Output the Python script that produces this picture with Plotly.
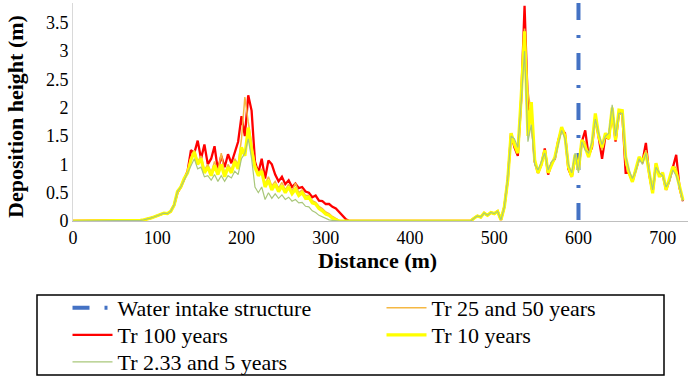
import plotly.graph_objects as go

# ---- data (distance in m, deposition height in m) ----
x_a = [80, 84, 88, 92, 96, 100, 104, 108, 112, 116, 120, 124, 128, 132, 136, 140, 144, 148, 152, 156,
       160, 164, 168, 172, 176, 180, 184, 188, 192, 196, 200, 204, 208, 212, 216, 220, 224, 228, 232, 236,
       240, 244, 248, 252, 256, 260, 264, 268, 272, 276, 280, 284, 288, 292, 296, 300, 304, 308, 312, 316,
       320, 324, 328]
x_b = [472, 476, 480, 484, 488, 492, 496, 500, 504, 508, 512, 516, 520, 524, 528, 532, 536, 540, 544, 548,
       552, 556, 560, 564, 568, 572, 576, 580, 584, 588, 592, 596, 600, 604, 608, 612, 616, 620, 624, 628,
       632, 636, 640, 644, 648, 652, 656, 660, 664, 668, 672, 676, 680, 684, 688, 692, 696, 700, 704, 708,
       712, 716, 720, 724]
x_gap_start = [0, 76]
x_gap_mid = [332, 468]

tr100_a = [0.01, 0.02, 0.03, 0.05, 0.07, 0.09, 0.12, 0.14, 0.13, 0.17,
           0.28, 0.5, 0.6, 0.75, 0.88, 1.25, 1.2, 1.42, 1.1, 1.35,
           1.0, 1.1, 1.32, 0.9, 1.15, 0.95, 1.18, 1.02, 1.2, 1.4,
           1.85, 1.5, 2.22, 1.95, 1.05, 0.85, 1.1, 0.75, 1.07, 1.0,
           0.82, 0.7, 0.78, 0.65, 0.72, 0.6, 0.66, 0.58, 0.6, 0.52,
           0.5, 0.42, 0.45, 0.36, 0.35, 0.3, 0.3, 0.25, 0.22, 0.15,
           0.08, 0.03, 0.0]
tr100_b = [0.0, 0.05, 0.09, 0.07, 0.14, 0.1, 0.15, 0.13, 0.17, 0.02,
           0.25, 0.72, 1.55, 1.3, 1.15, 2.15, 3.8, 2.0, 1.9, 1.05,
           0.85, 1.0, 1.28, 0.82, 1.02, 1.1, 1.42, 1.62, 1.55, 0.92,
           0.78, 1.12, 0.92, 1.4, 1.6, 1.15, 1.3, 1.85, 1.45, 1.1,
           1.5, 1.45, 1.95, 1.4, 1.9, 1.9, 0.85, 0.85, 0.7, 0.88,
           1.1, 1.05, 1.38, 0.82, 0.5, 1.0, 0.8, 0.82, 0.55, 0.72,
           0.93, 1.17, 0.58, 0.35]

tr25_50_a = [0.01, 0.02, 0.03, 0.05, 0.07, 0.09, 0.12, 0.14, 0.13, 0.17,
             0.28, 0.52, 0.6, 0.75, 0.86, 1.12, 1.25, 1.05, 1.15, 0.9,
             1.0, 0.85, 1.05, 0.88, 1.2, 0.82, 1.0, 0.9, 1.1, 1.0,
             1.45, 2.19, 1.75, 1.35, 1.0, 0.85, 0.92, 0.65, 0.78, 0.62,
             0.7, 0.58, 0.68, 0.55, 0.65, 0.52, 0.67, 0.5, 0.55, 0.45,
             0.45, 0.36, 0.33, 0.26, 0.22, 0.16, 0.13, 0.08, 0.04, 0.01,
             0.0, 0.0, 0.0]
tr25_50_b = [0.0, 0.05, 0.09, 0.07, 0.14, 0.1, 0.15, 0.13, 0.17, 0.02,
             0.25, 0.72, 1.55, 1.35, 1.2, 2.2, 3.4, 2.3, 1.9, 1.08,
             0.85, 1.0, 1.25, 0.85, 1.0, 1.12, 1.4, 1.62, 1.52, 0.95,
             0.78, 1.15, 0.9, 1.42, 1.4, 1.13, 1.35, 1.88, 1.5, 1.25,
             1.55, 1.45, 1.98, 1.43, 1.93, 1.93, 1.0, 0.85, 0.7, 0.9,
             1.12, 1.05, 1.25, 0.85, 0.5, 1.0, 0.8, 0.85, 0.55, 0.75,
             0.95, 0.95, 0.6, 0.36]

tr10_a = [0.01, 0.02, 0.03, 0.05, 0.07, 0.09, 0.12, 0.14, 0.13, 0.17,
          0.28, 0.52, 0.6, 0.75, 0.85, 1.08, 1.22, 1.0, 1.1, 0.85,
          0.95, 0.8, 0.98, 0.82, 1.0, 0.78, 0.95, 0.85, 1.05, 0.92,
          1.3, 1.15, 1.65, 1.25, 0.95, 0.8, 0.88, 0.6, 0.72, 0.55,
          0.65, 0.52, 0.62, 0.5, 0.6, 0.48, 0.56, 0.45, 0.5, 0.4,
          0.42, 0.32, 0.3, 0.22, 0.18, 0.12, 0.1, 0.05, 0.02, 0.0,
          0.0, 0.0, 0.0]
tr10_b = [0.0, 0.05, 0.09, 0.07, 0.14, 0.1, 0.15, 0.13, 0.17, 0.02,
          0.25, 0.72, 1.55, 1.35, 1.2, 2.2, 3.35, 1.5, 2.1, 1.08,
          0.85, 1.0, 1.25, 0.85, 1.0, 1.13, 1.4, 1.66, 1.5, 0.96,
          0.78, 1.17, 0.9, 1.43, 1.3, 1.13, 1.35, 1.9, 1.5, 1.3,
          1.55, 1.45, 2.0, 1.43, 1.96, 1.95, 1.13, 0.85, 0.69, 0.9,
          1.13, 1.05, 1.2, 0.85, 0.49, 1.02, 0.78, 0.85, 0.55, 0.75,
          0.96, 0.85, 0.6, 0.37]

tr2_5_a = [0.01, 0.02, 0.03, 0.05, 0.07, 0.09, 0.12, 0.14, 0.13, 0.17,
           0.28, 0.52, 0.6, 0.73, 0.85, 1.0, 1.1, 0.92, 0.95, 0.78,
           0.8, 0.72, 0.82, 0.7, 0.8, 0.7, 0.8, 0.76, 0.88, 0.82,
           1.1, 1.2, 1.45, 1.1, 0.6, 0.5, 0.6, 0.38, 0.5, 0.4,
           0.48, 0.4, 0.46, 0.38, 0.42, 0.35, 0.38, 0.32, 0.33, 0.26,
           0.25, 0.18, 0.15, 0.1, 0.07, 0.04, 0.02, 0.01, 0.0, 0.0,
           0.0, 0.0, 0.0]
tr2_5_b = [0.0, 0.05, 0.09, 0.07, 0.14, 0.1, 0.15, 0.13, 0.17, 0.02,
           0.25, 0.75, 1.5, 1.45, 1.3, 2.1, 3.0, 1.4, 1.7, 1.0,
           0.9, 1.05, 1.2, 0.9, 1.05, 1.1, 1.35, 1.6, 1.45, 1.0,
           0.85, 1.2, 0.85, 1.4, 1.25, 1.2, 1.4, 1.8, 1.55, 1.35,
           1.5, 1.55, 2.05, 1.5, 1.9, 1.9, 1.15, 0.9, 0.75, 0.88,
           1.1, 1.0, 1.2, 0.9, 0.55, 0.95, 0.85, 0.8, 0.6, 0.7,
           0.9, 0.8, 0.6, 0.35]

intake_x = [600, 600]
intake_y = [3.85, 0]

x_ticks = [0, 100, 200, 300, 400, 500, 600, 700]
y_ticks = [0, 0.5, 1, 1.5, 2, 2.5, 3, 3.5]

for s in (tr100_a, tr25_50_a, tr10_a, tr2_5_a):
    assert len(s) == len(x_a), len(s)
for s in (tr100_b, tr25_50_b, tr10_b, tr2_5_b):
    assert len(s) == len(x_b), len(s)

x_all = x_gap_start + x_a + x_gap_mid + x_b


def full(a, b):
    return [0, 0] + a + [0, 0] + b


FONT = "Liberation Serif"
PW, PH, L0, B0 = 615, 218, 73, 221   # plot area size & origin in px


def px_x(p):
    return (p - L0) / PW


def px_y(p):
    return (B0 - p) / PH


fig = go.Figure()
fig.add_trace(go.Scatter(x=intake_x, y=intake_y, mode="lines", name="Water intake structure",
                         line=dict(color="#4472C4", width=4, dash="17px,15px,3px,15px"),
                         legend="legend"))
fig.add_trace(go.Scatter(x=x_all, y=full(tr100_a, tr100_b), mode="lines", name="Tr 100 years",
                         line=dict(color="#FF0000", width=2.3), legend="legend3"))
fig.add_trace(go.Scatter(x=x_all, y=full(tr25_50_a, tr25_50_b), mode="lines", name="Tr 25 and 50 years",
                         line=dict(color="#F5B843", width=1.5), legend="legend2"))
fig.add_trace(go.Scatter(x=x_all, y=full(tr10_a, tr10_b), mode="lines", name="Tr 10 years",
                         line=dict(color="#FFFF00", width=3.2), legend="legend4"))
fig.add_trace(go.Scatter(x=x_all, y=full(tr2_5_a, tr2_5_b), mode="lines", name="Tr 2.33 and 5 years",
                         line=dict(color="#A9C77A", width=1.2), legend="legend5"))

leg_common = dict(orientation="h", xanchor="left", yanchor="middle", itemwidth=40,
                  font=dict(family=FONT, size=22, color="black"),
                  bgcolor="rgba(0,0,0,0)", borderwidth=0)
COL1, COL2 = 67.5, 381.5
ROW1, ROW2, ROW3 = 308, 335, 362

fig.update_layout(
    width=692, height=378,
    margin=dict(l=73, r=4, t=3, b=157, autoexpand=False),
    paper_bgcolor="white", plot_bgcolor="white",
    font=dict(family=FONT, size=18, color="black"),
    showlegend=True,
    legend=dict(x=px_x(COL1), y=px_y(ROW1), **leg_common),
    legend2=dict(x=px_x(COL2), y=px_y(ROW1), **leg_common),
    legend3=dict(x=px_x(COL1), y=px_y(ROW2), **leg_common),
    legend4=dict(x=px_x(COL2), y=px_y(ROW2), **leg_common),
    legend5=dict(x=px_x(COL1), y=px_y(ROW3), **leg_common),
    xaxis=dict(range=[0, 730], tickvals=x_ticks, ticktext=[str(v) for v in x_ticks],
               showgrid=False, zeroline=False, showline=True, linecolor="#BFBFBF", linewidth=1,
               ticks="", tickfont=dict(family=FONT, size=18), automargin=False),
    yaxis=dict(range=[0, 3.85], tickvals=y_ticks, ticktext=[f"{v:g}" for v in y_ticks],
               showgrid=False, zeroline=False, showline=True, linecolor="#D9D9D9", linewidth=1,
               ticks="", tickfont=dict(family=FONT, size=18), automargin=False),
    shapes=[dict(type="rect", xref="paper", yref="paper",
                 x0=px_x(37), x1=px_x(664), y0=px_y(375), y1=px_y(295),
                 line=dict(color="black", width=1.5), fillcolor="rgba(0,0,0,0)")],
    annotations=[
        dict(text="<b>Distance (m)</b>", xref="paper", yref="paper",
             x=px_x(377), y=px_y(260), xanchor="center", yanchor="middle",
             showarrow=False, font=dict(family=FONT, size=22)),
        dict(text="<b>Deposition height (m)</b>", xref="paper", yref="paper",
             x=px_x(15), y=px_y(117), xanchor="center", yanchor="middle",
             textangle=-90, showarrow=False, font=dict(family=FONT, size=22)),
    ],
)

fig.write_html(
    "out.html",
    config={"displayModeBar": False},
    post_script="document.body.style.margin='0';document.body.style.overflow='hidden';",
)
